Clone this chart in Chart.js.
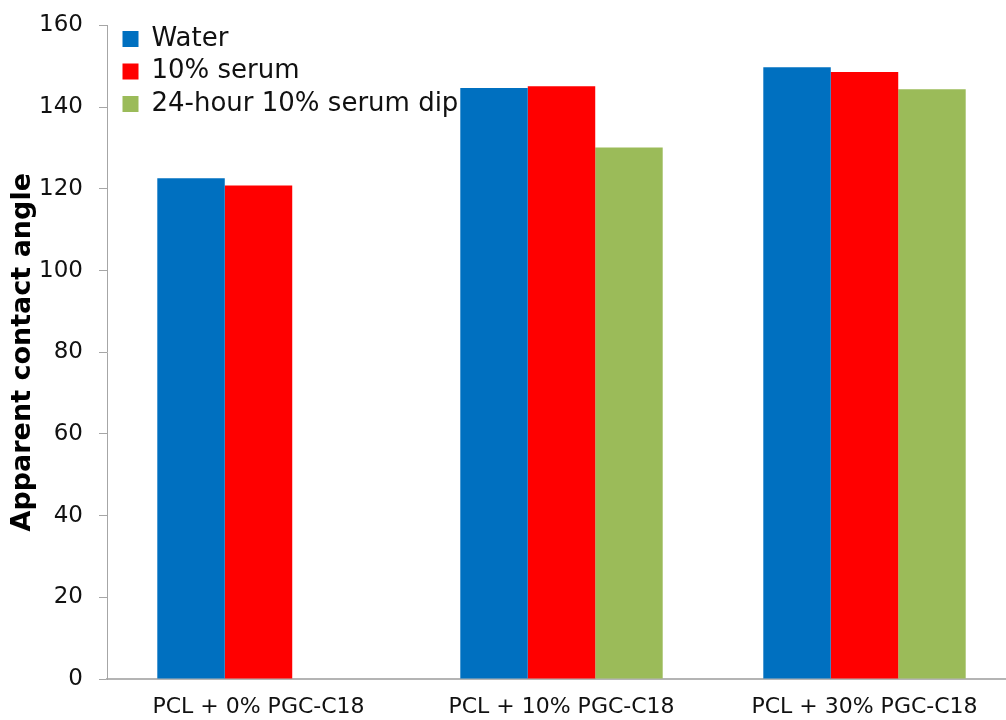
<!DOCTYPE html>
<html>
<head>
<meta charset="utf-8">
<title>Apparent contact angle</title>
<script src="https://cdn.jsdelivr.net/npm/chart.js@4.4.1/dist/chart.umd.min.js"></script>
<style>
  html, body { margin: 0; padding: 0; background: #fff; overflow: hidden; }
  #wrap { width: 1020px; height: 720px; }
</style>
</head>
<body>
<div id="wrap"><canvas id="angleChart" width="1020" height="720"></canvas></div>
<script>
// Contact angle per surface composition
// ---------------------------------------

// Sample groups along the x axis
const categories = ['PCL + 0% PGC-C18', 'PCL + 10% PGC-C18', 'PCL + 30% PGC-C18'];

// Series names
const seriesNames = ['Water', '10% serum', '24-hour 10% serum dip'];

// Measured angles (degrees); no dip measurement for the 0% sample
const waterAngles = [122.6, 144.7, 149.8];
const serumAngles = [120.8, 145.1, 148.6];
const dipAngles = [null, 130.1, 144.4];

// Y axis range
const yMin = 0;
const yMax = 160;
const yStep = 20;

// Series colours (Excel-ish palette)
const colors = ['#0070C0', '#FF0000', '#9BBB59'];

// The 'chartArea' legend sits flush in the corner; nudge it inwards a bit
const legendNudge = {
  id: 'legendNudge',
  afterLayout(chart) {
    const lg = chart.legend;
    if (!lg) return;
    lg.left = chart.chartArea.left + 9;
    lg.top = chart.chartArea.top - 6;
  }
};

const ctx = document.getElementById('angleChart').getContext('2d');

new Chart(ctx, {
  type: 'bar',
  data: {
    labels: categories,
    datasets: [waterAngles, serumAngles, dipAngles].map((vals, i) => ({
      label: seriesNames[i],
      data: vals,
      backgroundColor: colors[i],
      borderWidth: 0,
      categoryPercentage: 0.668,
      barPercentage: 1.0
    }))
  },
  options: {
    responsive: false,
    animation: false,
    layout: { padding: { top: 25.5, right: 4, left: 0, bottom: 0 } },
    plugins: {
      tooltip: { enabled: false },
      legend: {
        position: 'chartArea',
        align: 'start',
        labels: {
          boxWidth: 16,
          boxHeight: 16,
          padding: 6.5,
          color: '#111',
          font: { family: 'DejaVu Sans', size: 26 }
        }
      }
    },
    scales: {
      x: {
        grid: { display: false },
        border: { display: true, color: '#b4b4b4', width: 2 },
        ticks: {
          color: '#111',
          padding: 7,
          maxRotation: 0,
          font: { family: 'DejaVu Sans', size: 22 }
        },
        afterFit: scale => { scale.height = 41; }
      },
      y: {
        min: yMin,
        max: yMax,
        grid: {
          drawOnChartArea: false,
          tickLength: 8,
          color: '#a6a6a6'
        },
        border: { display: true, color: '#a6a6a6', width: 1 },
        ticks: {
          stepSize: yStep,
          color: '#111',
          padding: 16,
          font: { family: 'DejaVu Sans', size: 23 }
        },
        title: {
          display: true,
          text: 'Apparent contact angle',
          color: '#000',
          padding: { top: 7, bottom: 0 },
          font: { family: 'DejaVu Sans', size: 27, weight: 'bold' }
        },
        afterFit: scale => {
          // fixed axis width; let layout.padding alone set the top edge
          scale.width = 107;
          scale.paddingTop = 0;
          scale.paddingBottom = 0;
        }
      }
    }
  },
  plugins: [legendNudge]
});
</script>
</body>
</html>
